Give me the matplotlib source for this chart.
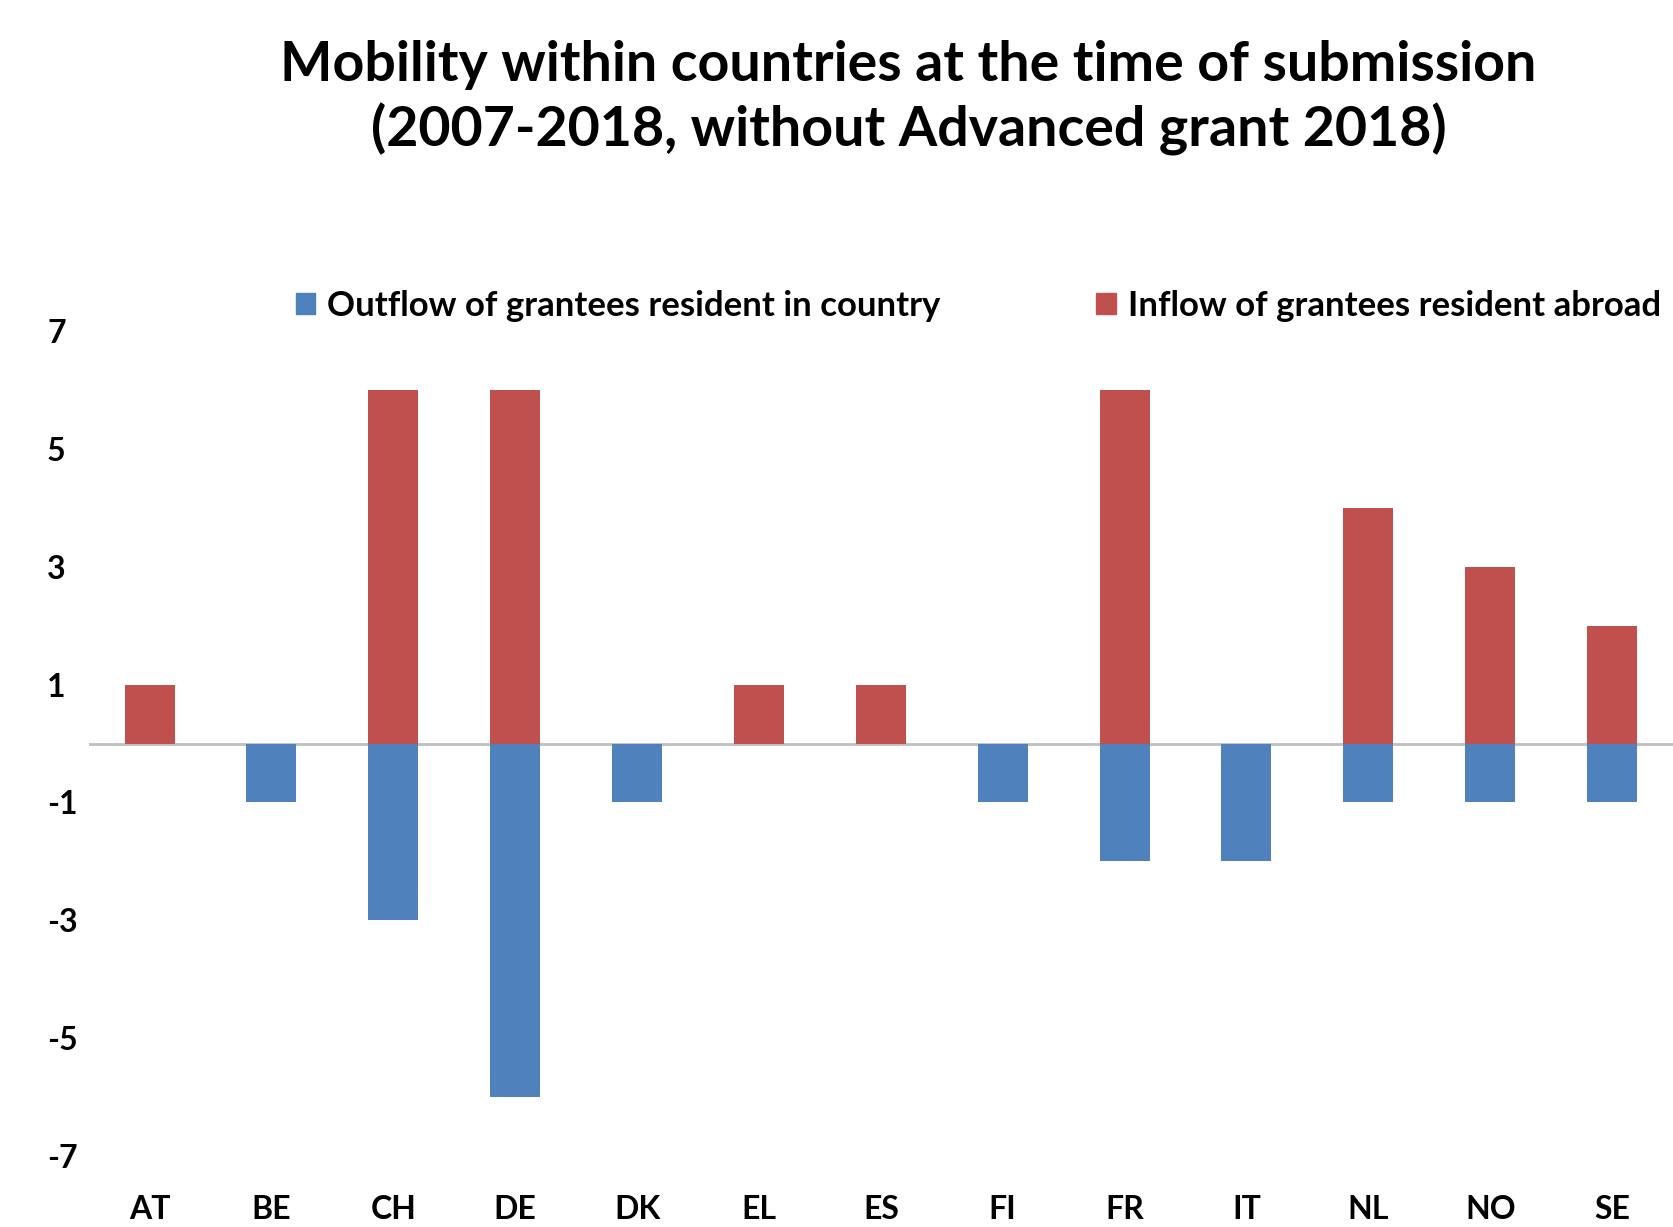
import numpy as np
import matplotlib.pyplot as plt
from matplotlib.patches import Patch

# Data
countries = ['AT', 'BE', 'CH', 'DE', 'DK', 'EL', 'ES', 'FI', 'FR', 'IT', 'NL', 'NO', 'SE']
outflow = [0, -1, -3, -6, -1, 0, 0, -1, -2, -2, -1, -1, -1]
inflow = [1, 0, 6, 6, 0, 1, 1, 0, 6, 0, 4, 3, 2]
yticks = [7, 5, 3, 1, -1, -3, -5, -7]

blue = '#4F81BD'
red = '#C0504D'

plt.rcParams['font.family'] = ['Lato', 'DejaVu Sans']

fig = plt.figure(figsize=(16.73, 12.27), dpi=100)
ax = fig.add_axes([0.053, 0.058, 0.947, 0.672])

x = np.arange(len(countries))
ax.bar(x, outflow, width=0.41, color=blue, label='Outflow of grantees resident in country')
ax.bar(x, inflow, width=0.41, color=red, label='Inflow of grantees resident abroad')

ax.axhline(0, color='#BFBFBF', lw=2, zorder=0)

ax.set_xlim(-0.5, len(countries) - 0.5)
ax.set_ylim(-7, 7)
ax.set_yticks(yticks)
ax.set_yticklabels([str(v) for v in yticks], fontsize=23, fontweight='bold')
ax.set_xticks(x)
ax.set_xticklabels(countries, fontsize=23, fontweight='bold')
ax.tick_params(axis='both', length=0)
ax.tick_params(axis='y', pad=30)
ax.tick_params(axis='x', pad=28)
for lab in ax.get_yticklabels():
    lab.set_horizontalalignment('left')
for s in ax.spines.values():
    s.set_visible(False)

handles = [Patch(color=blue), Patch(color=red)]
fig.legend(handles, ['Outflow of grantees resident in country', 'Inflow of grantees resident abroad'],
           loc='center left', bbox_to_anchor=(0.158, 0.751), ncol=2, frameon=False,
           prop={'size': 25, 'weight': 'bold'}, handlelength=0.55, handleheight=0.55,
           handletextpad=0.35, columnspacing=4.5)

fig.text(0.543, 0.920, 'Mobility within countries at the time of submission\n(2007-2018, without Advanced grant 2018)',
         ha='center', va='center', fontsize=40, fontweight='bold', linespacing=1.3,
         multialignment='center')

fig.savefig('out.png', dpi=100)
